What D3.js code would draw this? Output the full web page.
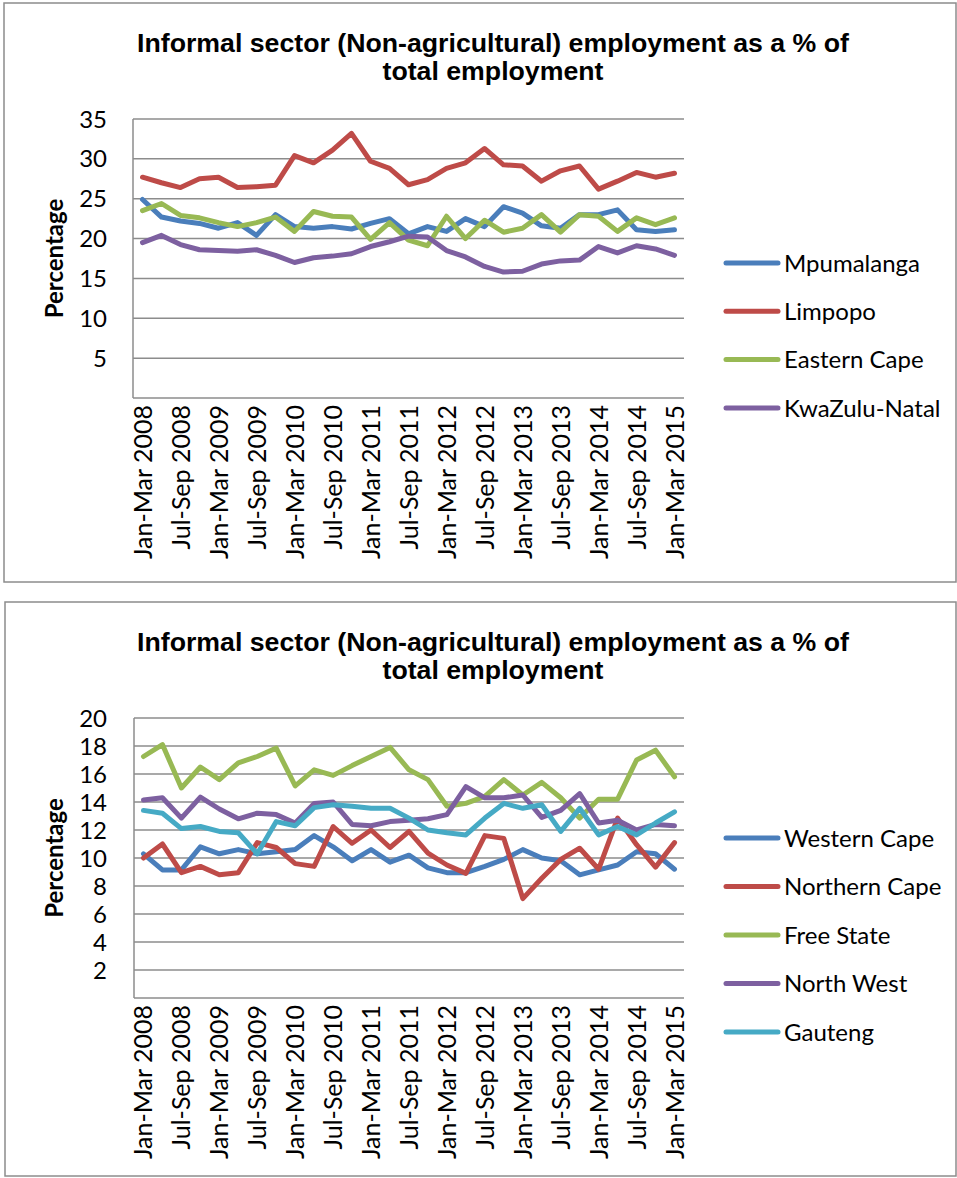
<!DOCTYPE html>
<html>
<head>
<meta charset="utf-8">
<script src="https://cdn.jsdelivr.net/npm/d3@7"></script>
<style>
  body { margin: 0; background: #fff; }
  svg { display: block; }
</style>
</head>
<body>
<svg id="chart" width="957" height="1178"></svg>
<script>
// quarters, Jan-Mar 2008 .. Jan-Mar 2015
const quarters = [
  'Jan-Mar 2008', 'Apr-Jun 2008', 'Jul-Sep 2008', 'Oct-Dec 2008',
  'Jan-Mar 2009', 'Apr-Jun 2009', 'Jul-Sep 2009', 'Oct-Dec 2009',
  'Jan-Mar 2010', 'Apr-Jun 2010', 'Jul-Sep 2010', 'Oct-Dec 2010',
  'Jan-Mar 2011', 'Apr-Jun 2011', 'Jul-Sep 2011', 'Oct-Dec 2011',
  'Jan-Mar 2012', 'Apr-Jun 2012', 'Jul-Sep 2012', 'Oct-Dec 2012',
  'Jan-Mar 2013', 'Apr-Jun 2013', 'Jul-Sep 2013', 'Oct-Dec 2013',
  'Jan-Mar 2014', 'Apr-Jun 2014', 'Jul-Sep 2014', 'Oct-Dec 2014',
  'Jan-Mar 2015'
];

const titleLines = ['Informal sector (Non-agricultural) employment as a % of', 'total employment'];

// top chart
const topNames = ['Mpumalanga', 'Limpopo', 'Eastern Cape', 'KwaZulu-Natal'];
const mpumalanga = [24.9, 22.7, 22.2, 21.9, 21.3, 22.0, 20.4, 23.0, 21.5, 21.3, 21.5, 21.2, 21.9, 22.5, 20.6,
  21.5, 20.9, 22.5, 21.5, 24.0, 23.2, 21.6, 21.3, 23.0, 23.0, 23.6, 21.1, 20.9, 21.1];
const limpopo = [27.7, 27.0, 26.4, 27.5, 27.7, 26.4, 26.5, 26.7, 30.4, 29.5, 31.1, 33.2, 29.7, 28.8, 26.75,
  27.4, 28.8, 29.5, 31.3, 29.25, 29.1, 27.2, 28.5, 29.1, 26.2, 27.2, 28.3, 27.7, 28.2];
const easternCape = [23.5, 24.4, 22.9, 22.6, 22.0, 21.5, 22.0, 22.7, 20.9, 23.4, 22.8, 22.7, 19.9, 22.0, 19.8,
  19.1, 22.8, 20.0, 22.3, 20.8, 21.3, 23.0, 20.8, 23.0, 22.8, 20.9, 22.6, 21.75, 22.6];
const kwazuluNatal = [19.5, 20.4, 19.25, 18.6, 18.5, 18.4, 18.6, 17.9, 17.0, 17.6, 17.8, 18.1, 19.0, 19.6, 20.3,
  20.2, 18.5, 17.7, 16.5, 15.8, 15.9, 16.8, 17.2, 17.3, 19.0, 18.2, 19.1, 18.7, 17.9];
const topTicks = [5, 10, 15, 20, 25, 30, 35];

// bottom chart
const bottomNames = ['Western Cape', 'Northern Cape', 'Free State', 'North West', 'Gauteng'];
const westernCape = [10.3, 9.15, 9.15, 10.8, 10.3, 10.6, 10.3, 10.45, 10.6, 11.6, 10.8, 9.8, 10.6, 9.7, 10.2,
  9.3, 8.95, 8.95, 9.4, 9.9, 10.6, 10.0, 9.8, 8.8, 9.15, 9.5, 10.45, 10.3, 9.2];
const northernCape = [10.0, 11.0, 8.95, 9.4, 8.8, 8.95, 11.1, 10.75, 9.6, 9.4, 12.25, 11.05, 12.0, 10.75, 11.9,
  10.35, 9.5, 8.9, 11.6, 11.4, 7.1, 8.55, 9.9, 10.7, 9.2, 12.85, 10.95, 9.35, 11.1];
const freeState = [17.25, 18.1, 15.0, 16.5, 15.6, 16.8, 17.25, 17.85, 15.15, 16.3, 15.9, 16.6, 17.25, 17.9, 16.3,
  15.6, 13.7, 13.9, 14.4, 15.6, 14.5, 15.4, 14.3, 12.85, 14.2, 14.2, 17.0, 17.7, 15.8];
const northWest = [14.15, 14.3, 12.85, 14.35, 13.5, 12.8, 13.2, 13.1, 12.5, 13.9, 14.0, 12.4, 12.3, 12.6, 12.7,
  12.8, 13.1, 15.1, 14.3, 14.3, 14.5, 12.9, 13.4, 14.6, 12.5, 12.7, 12.0, 12.4, 12.3];
const gauteng = [13.4, 13.2, 12.1, 12.25, 11.9, 11.8, 10.3, 12.6, 12.3, 13.6, 13.8, 13.7, 13.55, 13.55, 12.85,
  12.0, 11.8, 11.65, 12.85, 13.9, 13.55, 13.8, 11.9, 13.55, 11.65, 12.25, 11.65, 12.5, 13.3];
const bottomTicks = [2, 4, 6, 8, 10, 12, 14, 16, 18, 20];

const colors = ['#4a7ebb', '#be4b48', '#98b954', '#7d60a0', '#46aac5'];

const svg = d3.select('#chart');
const FONT = 'Lato, "Open Sans", sans-serif';

function drawPanel(cfg) {
  const g = svg.append('g').attr('transform', `translate(0,${cfg.top})`);

  g.append('rect')
    .attr('x', cfg.frame[0]).attr('y', cfg.frame[1])
    .attr('width', cfg.frame[2]).attr('height', cfg.frame[3])
    .attr('fill', 'none').attr('stroke', '#8c8c8c').attr('stroke-width', 1.5);

  // title
  let title = g.append('g');
  let t1 = title.append('text')
    .attr('x', 0).attr('y', 52)
    .attr('text-anchor', 'middle')
    .style('font-family', '"Liberation Sans", Arial, sans-serif')
    .style('font-weight', 'bold')
    .style('font-size', '25px')
    .text(titleLines[0]);
  title.append('text')
    .attr('x', 0).attr('y', 80)
    .attr('text-anchor', 'middle')
    .style('font-family', '"Liberation Sans", Arial, sans-serif')
    .style('font-weight', 'bold')
    .style('font-size', '25px')
    .text(titleLines[1]);
  let sx = 712 / t1.node().getComputedTextLength();
  title.attr('transform', `translate(493,0) scale(${sx},1)`);

  let x = d3.scaleBand().domain(quarters).range([cfg.left, 684]);
  let y = d3.scaleLinear().domain([0, cfg.max]).range([cfg.bottom, cfg.plotTop]);

  // gridlines
  g.append('g').selectAll('line')
    .data(cfg.ticks)
    .join('line')
    .attr('x1', cfg.left).attr('x2', 684)
    .attr('y1', (d) => y(d)).attr('y2', (d) => y(d))
    .attr('stroke', '#8c8c8c').attr('stroke-width', 1.5);

  // axes lines
  g.append('line')
    .attr('x1', cfg.left).attr('x2', 684)
    .attr('y1', y(0)).attr('y2', y(0))
    .attr('stroke', '#8c8c8c').attr('stroke-width', 1.5);
  g.append('line')
    .attr('x1', cfg.left).attr('x2', cfg.left)
    .attr('y1', y(0)).attr('y2', y(cfg.max))
    .attr('stroke', '#8c8c8c').attr('stroke-width', 1.5);

  // y tick labels
  g.append('g').selectAll('text')
    .data(cfg.ticks)
    .join('text')
    .attr('x', 107).attr('y', (d) => y(d))
    .attr('dy', '0.36em')
    .attr('text-anchor', 'end')
    .style('font-family', FONT).style('font-size', '24px').attr('fill', '#000')
    .text((d) => d);

  g.append('text')
    .attr('transform', `translate(63,${(y(0) + y(cfg.max)) / 2}) rotate(-90)`)
    .attr('text-anchor', 'middle')
    .style('font-family', FONT).style('font-size', '24px').style('font-weight', 'bold')
    .text('Percentage');

  // x labels, every other quarter
  g.append('g').selectAll('text')
    .data(quarters.filter((q, i) => i % 2 === 0))
    .join('text')
    .attr('transform', (d) => `translate(${x(d) + x.bandwidth() / 2},${y(0) + 7}) rotate(-90)`)
    .attr('dy', '0.36em')
    .attr('text-anchor', 'end')
    .style('font-family', FONT).style('font-size', '25px')
    .text((d) => d);

  let line = d3.line()
    .x((d, i) => x(quarters[i]) + x.bandwidth() / 2)
    .y((d) => y(d));

  cfg.series.forEach((s, idx) => {
    g.append('path')
      .datum(s)
      .attr('d', line)
      .attr('fill', 'none')
      .attr('stroke', colors[idx])
      .attr('stroke-width', 5)
      .attr('stroke-linejoin', 'round')
      .attr('stroke-linecap', 'round');
  });

  // legend
  let legend = g.append('g');
  cfg.names.forEach((name, idx) => {
    let ly = cfg.legendTop + idx * cfg.legendStep;
    legend.append('line')
      .attr('x1', 726).attr('x2', 778)
      .attr('y1', ly).attr('y2', ly)
      .attr('stroke', colors[idx]).attr('stroke-width', 5)
      .attr('stroke-linecap', 'round');
    legend.append('text')
      .attr('x', 784).attr('y', ly)
      .attr('dy', '0.36em')
      .style('font-family', FONT).style('font-size', '24px')
      .text(name);
  });
}

drawPanel({
  top: 0,
  frame: [4, 3, 952, 579],
  left: 133, plotTop: 119, bottom: 398, max: 35,
  ticks: topTicks,
  series: [mpumalanga, limpopo, easternCape, kwazuluNatal],
  names: topNames,
  legendTop: 263, legendStep: 48.3
});

drawPanel({
  top: 599,
  frame: [5, 3, 951, 574],
  left: 134, plotTop: 119, bottom: 399, max: 20,
  ticks: bottomTicks,
  series: [westernCape, northernCape, freeState, northWest, gauteng],
  names: bottomNames,
  legendTop: 239, legendStep: 48.5
});
</script>
</body>
</html>
